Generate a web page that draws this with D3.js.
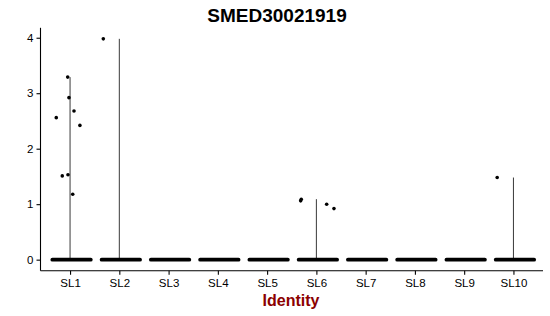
<!DOCTYPE html>
<html><head><meta charset="utf-8">
<script src="https://cdn.jsdelivr.net/npm/d3@7"></script>
<style>body{margin:0;background:#fff}svg{display:block}text{font-family:"Liberation Sans",Arial,sans-serif}</style>
</head><body><svg id="c" width="550" height="316"></svg>
<script>
const title = "SMED30021919";
const categories = ["SL1","SL2","SL3","SL4","SL5","SL6","SL7","SL8","SL9","SL10"];
const maxValues = [3.29, 3.98, 0, 0, 0, 1.09, 0, 0, 0, 1.48];
// non-zero expressing cells: cluster, value, jitter (fraction of category step)
const ptCluster = ["SL1","SL1","SL1","SL1","SL1","SL1","SL1","SL1","SL2","SL6","SL6","SL6","SL6","SL10"];
const ptValue   = [3.29, 2.92, 2.68, 2.56, 2.42, 1.51, 1.53, 1.18, 3.98, 1.06, 1.09, 1.00, 0.92, 1.48];
const ptJitter  = [-0.048,-0.022,0.08,-0.28,0.2,-0.158,-0.042,0.054,-0.325,-0.319,-0.307,0.209,0.357,-0.33];
const yTicks = [0,1,2,3,4];

const svg = d3.select("#c");
const x = d3.scalePoint().domain(categories).range([40.5, 543]).padding(0.6);
const step = x.step();
const dMax = d3.max(maxValues), ex = dMax*0.05;
const y = d3.scaleLinear().domain([-ex, dMax+ex]).range([270.7, 27.8]);
const y0 = y(0);

// y axis
const ya = svg.append("g").attr("transform","translate(40.5,0)")
  .call(d3.axisLeft(y).tickValues(yTicks).tickSize(4).tickPadding(3).tickFormat(d3.format("d")));
// x axis
const xa = svg.append("g").attr("transform","translate(0,270.7)")
  .call(d3.axisBottom(x).tickSize(4).tickPadding(4));
[ya,xa].forEach(a=>{
  a.select(".domain").attr("stroke","#000").attr("stroke-width",1.1);
  a.selectAll(".tick line").attr("stroke","#000").attr("stroke-width",1.1);
  a.selectAll(".tick text").attr("fill","#000").attr("font-size",11.5).attr("font-family","Liberation Sans, Arial, sans-serif");
});
ya.select(".domain").attr("d", `M0,${y(dMax+ex)}V270.7`);
xa.select(".domain").attr("d", "M40.5,0H543");

// violins (collapsed to vertical lines)
svg.append("g").selectAll("line").data(categories.filter((c,i)=>maxValues[i]>0)).join("line")
  .attr("x1",c=>x(c)).attr("x2",c=>x(c))
  .attr("y1",y0).attr("y2",c=>y(maxValues[categories.indexOf(c)]))
  .attr("stroke","#222").attr("stroke-width",0.9);

// zero-expression cells (dense jittered band)
svg.append("g").selectAll("line").data(categories).join("line")
  .attr("x1",c=>x(c)-step*0.4+2).attr("x2",c=>x(c)+step*0.4+1)
  .attr("y1",y0).attr("y2",y0)
  .attr("stroke","#000").attr("stroke-width",3.8).attr("stroke-linecap","round");

// expressing cells
svg.append("g").selectAll("circle").data(ptValue.map((v,i)=>({c:ptCluster[i],v,j:ptJitter[i]}))).join("circle")
  .attr("cx",d=>x(d.c)+d.j*step).attr("cy",d=>y(d.v)).attr("r",1.8).attr("fill","#000");

// title
svg.append("text").attr("x",277).attr("y",22).attr("text-anchor","middle")
  .attr("font-size",19).attr("font-weight","bold").attr("fill","#000").text(title);
// x title
svg.append("text").attr("x",291).attr("y",305.7).attr("text-anchor","middle")
  .attr("font-size",16).attr("font-weight","bold").attr("fill","#8b0000").text("Identity");
</script></body></html>
